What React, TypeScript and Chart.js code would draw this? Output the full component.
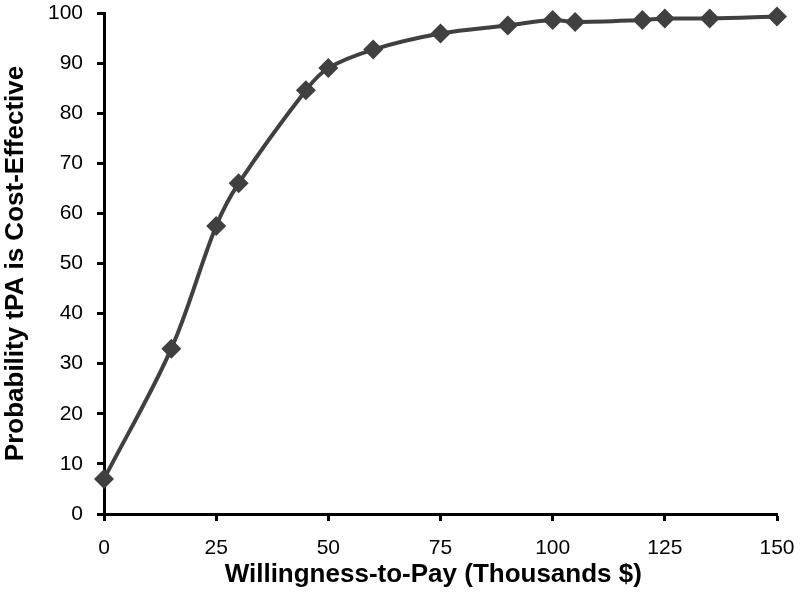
import React, { useEffect, useRef } from "react";
import { Chart, registerables } from "chart.js";

Chart.register(...registerables);

const wtpThousands = [0, 15, 25, 30, 45, 50, 60, 75, 90, 100, 105, 120, 125, 135, 150];
const probability = [7, 33, 57.5, 66, 84.6, 89, 92.7, 95.9, 97.5, 98.6, 98.2, 98.6, 98.9, 98.9, 99.3];
const xTicks = [0, 25, 50, 75, 100, 125, 150];
const yTicks = [0, 10, 20, 30, 40, 50, 60, 70, 80, 90, 100];
const xTitle = "Willingness-to-Pay (Thousands $)";
const yTitle = "Probability tPA is Cost-Effective";

export default function App() {
  const ref = useRef<HTMLCanvasElement>(null);
  useEffect(() => {
    document.body.style.margin = "0";
    const ctx = ref.current!;
    const fontFamily = "'Liberation Sans', Arial, sans-serif";
    const zeroPad = (s: any) => {
      s.paddingTop = 0;
      s.paddingBottom = 0;
      s.paddingLeft = 0;
      s.paddingRight = 0;
    };
    const chart = new Chart(ctx, {
      type: "line",
      data: {
        datasets: [
          {
            data: wtpThousands.map((x, i) => ({ x, y: probability[i] })),
            borderColor: "#404040",
            backgroundColor: "#404040",
            borderWidth: 4,
            tension: 0.35,
            pointStyle: "rectRot",
            pointRadius: 10,
            pointBorderWidth: 0,
            pointBackgroundColor: "#404040",
            clip: false as any,
          },
        ],
      },
      options: {
        animation: false,
        responsive: false,
        maintainAspectRatio: false,
        layout: { padding: { top: 13, right: 23, left: 0, bottom: 0 } },
        plugins: { legend: { display: false }, tooltip: { enabled: false } },
        scales: {
          x: {
            type: "linear",
            min: 0,
            max: 150,
            afterBuildTicks: (s: any) => {
              s.ticks = xTicks.map((v) => ({ value: v }));
            },
            afterFit: (s: any) => {
              s.height = 82;
              zeroPad(s);
            },
            border: { display: true, color: "#000", width: 3 },
            grid: {
              display: true,
              drawOnChartArea: false,
              drawTicks: true,
              tickLength: 7,
              tickWidth: 3,
              tickColor: "#000",
            },
            ticks: {
              color: "#000",
              padding: 15,
              maxRotation: 0,
              font: { family: fontFamily, size: 21 },
            },
            title: {
              display: true,
              text: xTitle + "  ",
              color: "#000",
              font: { family: fontFamily, size: 26, weight: "bold" },
              padding: { top: 0, bottom: 6 },
            },
          },
          y: {
            type: "linear",
            min: 0,
            max: 100,
            afterBuildTicks: (s: any) => {
              s.ticks = yTicks.map((v) => ({ value: v }));
            },
            afterFit: (s: any) => {
              s.width = 104;
              zeroPad(s);
            },
            border: { display: true, color: "#000", width: 3 },
            grid: {
              display: true,
              drawOnChartArea: false,
              drawTicks: true,
              tickLength: 7,
              tickWidth: 3,
              tickColor: "#000",
            },
            ticks: {
              color: "#000",
              padding: 14,
              font: { family: fontFamily, size: 21 },
            },
            title: {
              display: true,
              text: yTitle,
              color: "#000",
              font: { family: fontFamily, size: 26, weight: "bold" },
              padding: { top: 0, bottom: 0 },
            },
          },
        },
      },
    });
    return () => chart.destroy();
  }, []);
  return (
    <div style={{ position: "absolute", left: 0, top: 0, width: 800, height: 596, background: "#fff" }}>
      <canvas ref={ref} width={800} height={596} style={{ width: 800, height: 596 }} />
    </div>
  );
}
